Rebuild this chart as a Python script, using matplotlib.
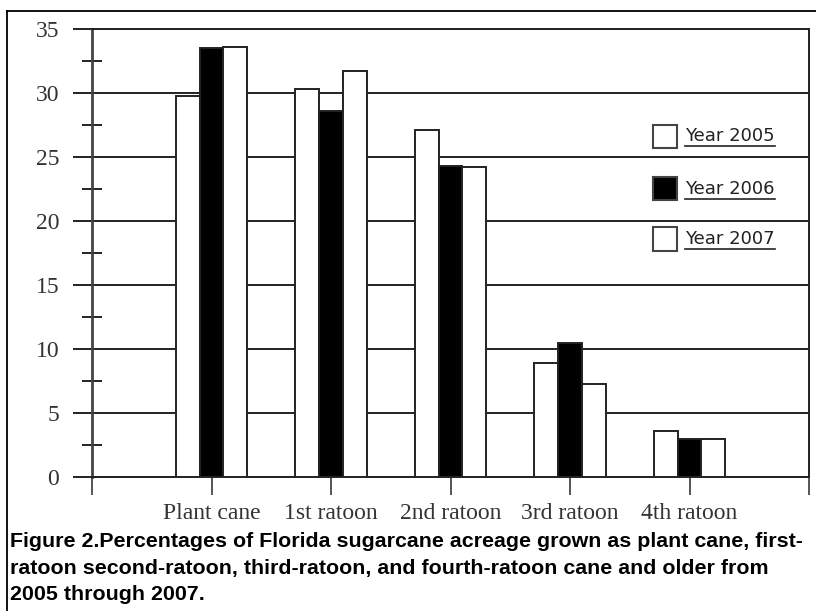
import matplotlib
matplotlib.use("Agg")
import matplotlib.pyplot as plt
from matplotlib.patches import Rectangle
from matplotlib.lines import Line2D
import numpy as np

categories = ["Plant cane", "1st ratoon", "2nd ratoon", "3rd ratoon", "4th ratoon"]
years = ["Year 2005", "Year 2006", "Year 2007"]
vals_2005 = [29.8, 30.3, 27.1, 8.9, 3.6]
vals_2006 = [33.5, 28.6, 24.3, 10.5, 3.0]
vals_2007 = [33.6, 31.7, 24.25, 7.25, 3.0]
series = [vals_2005, vals_2006, vals_2007]
colors = ["white", "black", "white"]
yticks = [0, 5, 10, 15, 20, 25, 30, 35]
caption = ["Figure 2.Percentages of Florida sugarcane acreage grown as plant cane, first-",
           "ratoon second-ratoon, third-ratoon, and fourth-ratoon cane and older from",
           "2005 through 2007."]

W, H = 816, 611
fig = plt.figure(figsize=(W / 100, H / 100), dpi=100)

def fx(px):
    return px / W

def fy(py):
    return 1 - py / H

ax = fig.add_axes([fx(92), fy(477), fx(809) - fx(92), fy(29) - fy(477)])
ax.set_xlim(0, 6)
ax.set_ylim(0, 35)

x = np.arange(1, len(categories) + 1)
width = 0.2
for i, (vals, c) in enumerate(zip(series, colors)):
    ax.bar(x + (i - 1) * width, vals, width=width, color=c, edgecolor="#222222",
           linewidth=1.4, zorder=3)

# gridlines
for yv in yticks:
    ax.axhline(yv, color="#222222", lw=1.4, zorder=1)

ax.set_yticks(yticks)
ax.set_yticklabels([str(v) for v in yticks], fontfamily="Liberation Serif", fontsize=17, color="#333333")
ax.set_yticks(np.arange(2.5, 35, 5), minor=True)
ax.tick_params(axis="y", which="major", direction="out", length=13.7, width=1.4,
               pad=10, color="#222222")
ax.tick_params(axis="y", which="minor", direction="inout", length=14.4, width=1.4, color="#222222")

ax.set_xticks(list(range(0, 7)))
ax.set_xticklabels([""] + categories + [""], fontfamily="Liberation Serif", fontsize=17, color="#333333")
ax.tick_params(axis="x", which="major", direction="out", length=13, width=1.4, pad=6,
               color="#555555")

for s in ax.spines.values():
    s.set_color("#222222")
    s.set_linewidth(1.4)
ax.spines["left"].set_color("#444444")
ax.spines["left"].set_linewidth(2)

# legend drawn manually
leg_y = [136.5, 188.5, 239]
for yy, c, lab in zip(leg_y, colors, years):
    fig.patches.append(Rectangle((fx(653), fy(yy + 11.5)), fx(24), (23 / H), transform=fig.transFigure,
                                 facecolor=c, edgecolor="#444444", lw=1.5))
    t = fig.text(fx(685), fy(yy), lab, fontfamily="DejaVu Sans", fontsize=13,
                 color="#222222", ha="left", va="center")

fig.canvas.draw()
r = fig.canvas.get_renderer()
for t in fig.texts[-3:]:
    bb = t.get_window_extent(r)
    yline = bb.y0 - 1
    fig.lines.append(Line2D([bb.x0 / W, bb.x1 / W], [yline / H, yline / H],
                            transform=fig.transFigure, color="#222222", lw=1.2))

# caption
cap_y = [547, 574, 600]
for line, yy in zip(caption, cap_y):
    fig.text(fx(10), fy(yy), line, fontfamily="Liberation Sans", fontweight="bold",
             fontsize=15.4, color="black", ha="left", va="baseline")

# outer frame
fig.lines.append(Line2D([fx(7), 1], [fy(11), fy(11)], transform=fig.transFigure, color="black", lw=1.3))
fig.lines.append(Line2D([fx(7), fx(7)], [fy(11), 0], transform=fig.transFigure, color="black", lw=1.3))

fig.savefig("out.png", dpi=100)
